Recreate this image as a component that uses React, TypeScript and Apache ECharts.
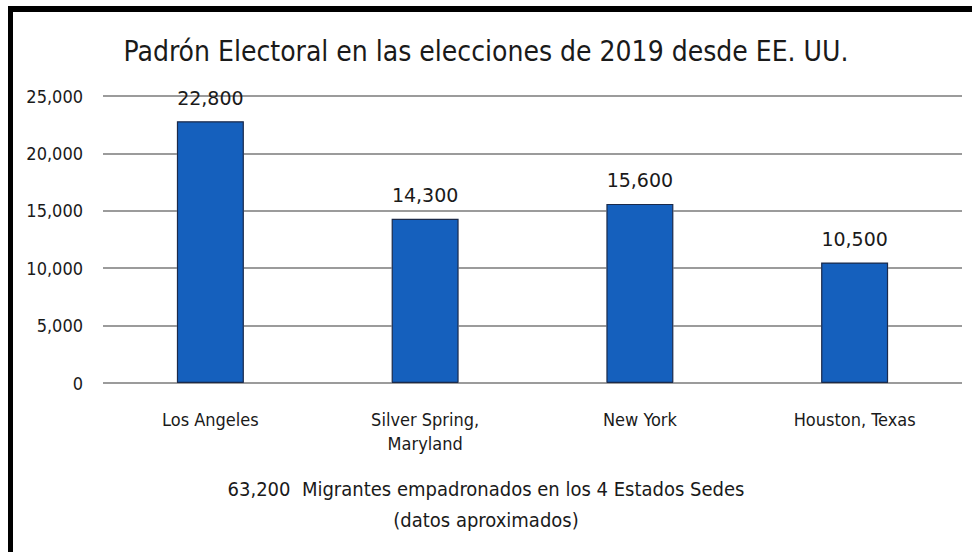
import React, { useEffect, useRef } from "react";
import * as echarts from "echarts";

const categories = ["Los Angeles", "Silver Spring,\nMaryland", "New York", "Houston, Texas"];
const values = [22800, 14300, 15600, 10500];
const yTicks = { min: 0, max: 25000, interval: 5000 };
const titleText = "Padrón Electoral en las elecciones de 2019 desde EE. UU.";
const footerLines = ["63,200  Migrantes empadronados en los 4 Estados Sedes", "(datos aproximados)"];

const CAL = "'Liberation Sans Narrow', 'DejaVu Sans Condensed', 'Open Sans', sans-serif";
const VER = "'DejaVu Sans', Verdana, sans-serif";

export default function App() {
  const ref = useRef<HTMLDivElement>(null);
  useEffect(() => {
    if (!ref.current) return;
    const chart = echarts.init(ref.current, undefined, { renderer: "svg" });
    chart.setOption({
      animation: false,
      backgroundColor: "#ffffff",
      title: {
        text: titleText,
        left: "center",
        top: 32,
        textStyle: { fontFamily: CAL, fontSize: 28, fontWeight: "normal", color: "#1a1a1a" },
      },
      grid: { left: 103, right: 10, top: 96, bottom: 169 },
      xAxis: {
        type: "category",
        data: categories,
        axisLine: { show: false },
        axisTick: { show: false },
        axisLabel: {
          margin: 24,
          fontFamily: CAL,
          fontSize: 18,
          lineHeight: 24,
          color: "#1a1a1a",
          interval: 0,
        },
      },
      yAxis: {
        type: "value",
        min: yTicks.min,
        max: yTicks.max,
        interval: yTicks.interval,
        axisLine: { show: false },
        axisTick: { show: false },
        splitLine: { lineStyle: { color: "#7a7a7a", width: 1.5 } },
        axisLabel: {
          margin: 20,
          fontFamily: CAL,
          fontSize: 18,
          color: "#1a1a1a",
          formatter: (v: number) => v.toLocaleString("en-US"),
        },
      },
      series: [
        {
          type: "bar",
          data: values,
          barWidth: 67,
          silent: true,
          z: 3,
          itemStyle: { color: "#ffffff", borderColor: "#ffffff", borderWidth: 8 },
        },
        {
          type: "bar",
          data: values,
          barWidth: 67,
          barGap: "-100%",
          z: 4,
          itemStyle: { color: "#1560BD", borderColor: "#1b2a4a", borderWidth: 1.2 },
          label: {
            show: true,
            position: "top",
            distance: 14,
            fontFamily: VER,
            fontSize: 19,
            color: "#1a1a1a",
            formatter: (p: any) => Number(p.value).toLocaleString("en-US"),
          },
        },
      ],
      graphic: [
        { type: "rect", shape: { x: 8, y: 6, width: 964, height: 6 }, style: { fill: "#000" } },
        { type: "rect", shape: { x: 8, y: 6, width: 5, height: 546 }, style: { fill: "#000" } },
        {
          type: "text",
          left: "center",
          top: 479,
          style: { text: footerLines[0], fontFamily: CAL, fontSize: 20, fill: "#1a1a1a" },
        },
        {
          type: "text",
          left: "center",
          top: 510,
          style: { text: footerLines[1], fontFamily: CAL, fontSize: 20, fill: "#1a1a1a" },
        },
      ],
    });
    return () => chart.dispose();
  }, []);
  return (
    <div
      ref={ref}
      style={{ position: "fixed", left: 0, top: 0, width: 972, height: 552, background: "#fff" }}
    />
  );
}
